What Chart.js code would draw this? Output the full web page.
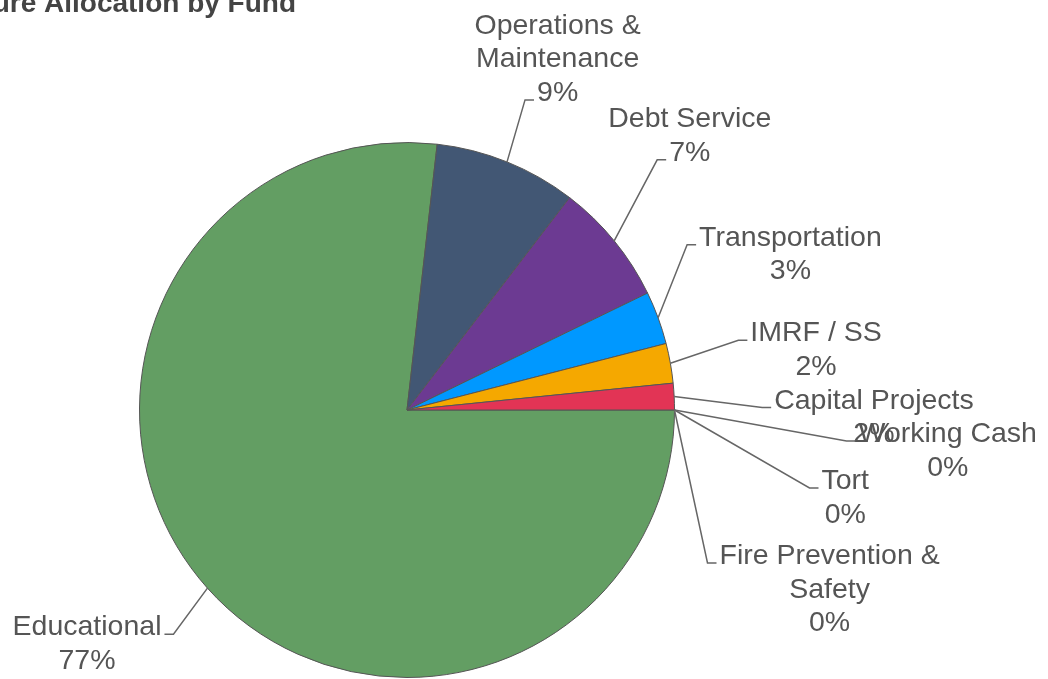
<!DOCTYPE html>
<html>
<head>
<meta charset="utf-8">
<script src="https://cdn.jsdelivr.net/npm/chart.js@4"></script>
<style>
  html, body { margin: 0; padding: 0; background: #fff; overflow: hidden; }
  canvas { display: block; }
</style>
</head>
<body>
<canvas id="funds" width="1048" height="679"></canvas>
<script>
// fund shares of total expenditure (percent)
var funds = ["Educational", "Operations & Maintenance", "Debt Service", "Transportation",
             "IMRF / SS", "Capital Projects", "Working Cash", "Tort", "Fire Prevention & Safety"];
var shares = [76.8, 8.6, 7.4, 3.2, 2.4, 1.6, 0, 0, 0];
var sliceColors = ["#639e63", "#425774", "#6c3a92", "#0098ff", "#f5a800", "#e23455",
                   "#1aa39b", "#9c5a2e", "#c0c0c0"];

var FONT = "28.5px 'Liberation Sans', Arial, sans-serif";
var LINE_H = 33.5;

// where each callout bends, relative to the slice edge point
var callouts = [
    { dx: -34, dy: 46,  side: -1, attach: "first" },
    { dx: 18,  dy: -62, side: 1,  attach: "last" },
    { dx: 43,  dy: -81, side: 1,  attach: "last" },
    { dx: 29,  dy: -73, side: 1,  attach: "first" },
    { dx: 68,  dy: -23, side: 1,  attach: "first" },
    { dx: 88,  dy: 11,  side: 1,  attach: "first" },
    { dx: 172, dy: 31,  side: 1,  attach: "first" },
    { dx: 135, dy: 78,  side: 1,  attach: "first" },
    { dx: 33,  dy: 153, side: 1,  attach: "first" }
];

function wrap(ctx, text, maxW) {
    var words = text.split(" "), out = [], cur = "";
    words.forEach(function (w) {
        var t = cur ? cur + " " + w : w;
        if (cur && ctx.measureText(t).width > maxW) { out.push(cur); cur = w; }
        else cur = t;
    });
    if (cur) out.push(cur);
    return out;
}

var titlePlugin = {
    id: "pageTitle",
    afterDraw: function (chart) {
        var ctx = chart.ctx;
        ctx.save();
        ctx.font = "bold 28px 'Liberation Sans', Arial, sans-serif";
        ctx.fillStyle = "#444";
        ctx.textAlign = "right";
        ctx.textBaseline = "alphabetic";
        ctx.fillText("Expenditure Allocation by Fund", 296, 12);
        ctx.restore();
    }
};

var calloutPlugin = {
    id: "callouts",
    afterDatasetsDraw: function (chart) {
        var ctx = chart.ctx;
        var arcs = chart.getDatasetMeta(0).data;
        var total = shares.reduce(function (a, b) { return a + b; }, 0);
        ctx.save();
        ctx.font = FONT;
        ctx.textAlign = "center";
        ctx.textBaseline = "alphabetic";
        arcs.forEach(function (arc, i) {
            var p = arc.getProps(["x", "y", "startAngle", "endAngle", "outerRadius"], true);
            var mid = (p.startAngle + p.endAngle) / 2;
            var ex = p.x + Math.cos(mid) * p.outerRadius;
            var ey = p.y + Math.sin(mid) * p.outerRadius;
            var c = callouts[i];
            var bx = ex + c.dx, by = ey + c.dy;
            var tx = bx + c.side * 9;

            ctx.strokeStyle = "#666";
            ctx.lineWidth = 1.5;
            ctx.beginPath();
            ctx.moveTo(ex, ey);
            ctx.lineTo(bx, by);
            ctx.lineTo(tx, by);
            ctx.stroke();

            var lines = wrap(ctx, funds[i], 240);
            lines.push(Math.round(shares[i] / total * 100) + "%");
            var a = c.attach === "last" ? lines.length - 1 : 0;
            var aw = ctx.measureText(lines[a]).width;
            var cx = tx + c.side * (3 + aw / 2);
            ctx.fillStyle = "#555";
            lines.forEach(function (t, k) {
                ctx.fillText(t, cx, by + 1 + (k - a) * LINE_H);
            });
        });
        ctx.restore();
    }
};

new Chart(document.getElementById("funds"), {
    type: "pie",
    data: {
        labels: funds,
        datasets: [{
            data: shares,
            backgroundColor: sliceColors,
            borderColor: "#555",
            borderWidth: 1
        }]
    },
    options: {
        responsive: false,
        animation: false,
        rotation: 90,
        layout: { padding: { left: 139, right: 373, top: 142, bottom: 1 } },
        plugins: {
            legend: { display: false },
            tooltip: { enabled: false },
            title: { display: false }
        }
    },
    plugins: [calloutPlugin, titlePlugin]
});
</script>
</body>
</html>
